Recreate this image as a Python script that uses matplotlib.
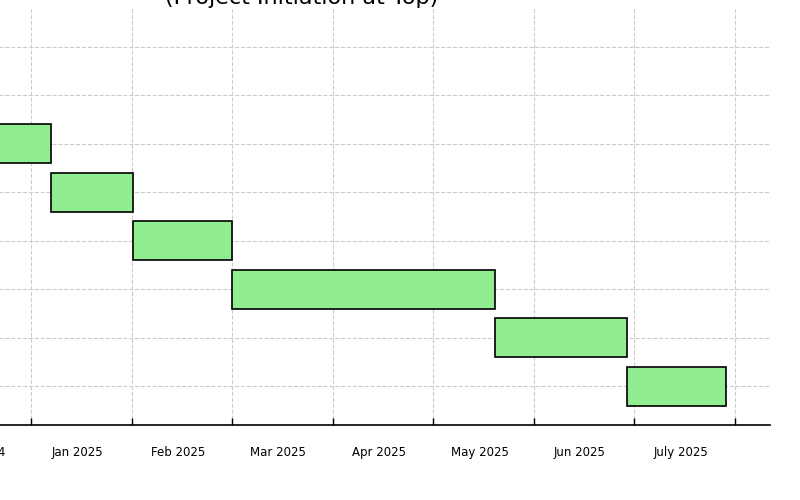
import matplotlib
matplotlib.use("Agg")
import matplotlib.pyplot as plt
from matplotlib.ticker import FixedLocator, NullFormatter

# task timeline in month units (0 = start of Jan 2025)
tasks = ["Project Initiation", "Requirements", "Design", "Prototype",
         "Development", "Testing", "Deployment", "Review"]
starts = [-1.90, -1.20, -0.45, 0.20, 1.01, 2.00, 4.61, 5.93]
ends = [-1.20, -0.45, 0.20, 1.01, 2.00, 4.61, 5.93, 6.91]
month_labels = ["Dec 2024", "Jan 2025", "Feb 2025", "Mar 2025", "Apr 2025",
                "May 2025", "Jun 2025", "July 2025"]
month_ticks = list(range(-1, 8))

fig = plt.figure(figsize=(8, 5), dpi=100)
ax = fig.add_axes([-0.2075, 0.15, 1.17, 0.834])

ypos = list(range(len(tasks)))
widths = [e - s for s, e in zip(starts, ends)]
ax.barh(ypos, widths, left=starts, height=0.8, color="lightgreen",
        edgecolor="black", linewidth=1.2, zorder=3)

ax.set_xlim(-1.96, 7.35)
ax.set_ylim(len(tasks) - 0.2, -0.8)
ax.set_yticks(ypos)
ax.set_yticklabels([])
ax.tick_params(axis="y", length=0)

ax.xaxis.set_major_locator(FixedLocator(month_ticks))
ax.xaxis.set_major_formatter(NullFormatter())
ax.xaxis.set_minor_locator(FixedLocator([m + 0.46 for m in range(-1, 7)]))
ax.set_xticklabels(month_labels, minor=True)
ax.tick_params(axis="x", which="major", direction="in", length=5, width=1)
ax.tick_params(axis="x", which="minor", length=0, pad=15, labelsize=8.5)

ax.grid(True, which="major", linestyle="--", color="#cccccc", linewidth=0.8, zorder=0)
for s in ["top", "right", "left"]:
    ax.spines[s].set_visible(False)
ax.spines["bottom"].set_linewidth(1.2)

ax.set_title("Project Timeline\n(Project Initiation at Top)", fontsize=16, pad=-0.5)

fig.savefig("out.png", dpi=100)
